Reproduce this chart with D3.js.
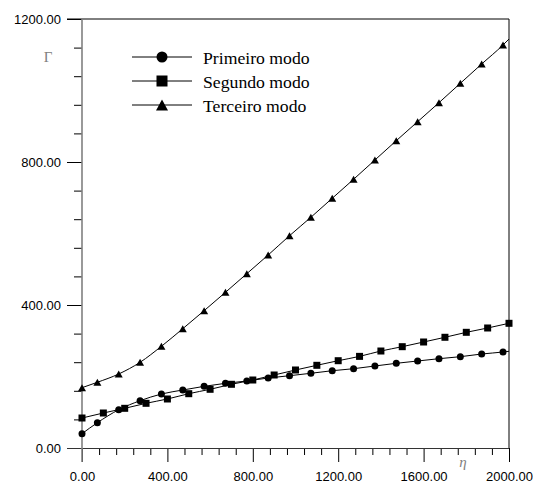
<!DOCTYPE html>
<html>
<head>
<meta charset="utf-8">
<script src="https://cdn.jsdelivr.net/npm/d3@7/dist/d3.min.js"></script>
<style>
  html, body { margin: 0; padding: 0; background: #fff; }
  svg { display: block; }
  .tick text { font-family: "Liberation Sans", Arial, sans-serif; font-size: 13px; fill: #000; }
</style>
</head>
<body>
<svg id="chart" width="533" height="484"></svg>
<script>
// η positions where markers sit
const etaShifted = [0, 72, 172, 272, 372, 472, 572, 672, 772, 872, 972, 1072, 1172, 1272, 1372, 1472, 1572, 1672, 1772, 1872, 1972];
const etaEven = [0, 100, 200, 300, 400, 500, 600, 700, 800, 900, 1000, 1100, 1200, 1300, 1400, 1500, 1600, 1700, 1800, 1900, 2000];

// Γ values of each mode
const primeiroModo = [40.0, 70.8, 107.1, 132.3, 151.0, 162.2, 172.5, 180.9, 187.4, 195.8, 202.2, 209.0, 216.2, 221.8, 229.4, 236.9, 243.4, 249.8, 255.4, 262.9, 268.5];
const segundoModo = [83.9, 97.9, 111.0, 125.0, 137.1, 151.9, 164.2, 178.2, 190.2, 204.2, 218.2, 231.3, 244.2, 256.3, 271.3, 283.4, 296.5, 309.7, 323.6, 335.7, 348.8];
const terceiroModo = [168.7, 183.8, 207.0, 239.7, 284.5, 333.7, 384.1, 435.5, 487.6, 539.9, 593.8, 645.3, 698.5, 751.6, 805.6, 859.6, 912.7, 965.9, 1020.1, 1074.1, 1127.3];
// curve values at the right edge (η = 2000), no marker there
const primeiroEnd = 270.5;
const terceiroEnd = 1144.0;

const seriesNames = ["Primeiro modo", "Segundo modo", "Terceiro modo"];
const xMajorTicks = [0, 400, 800, 1200, 1600, 2000];
const yMajorTicks = [0, 400, 800, 1200];

const svg = d3.select("#chart");
const x = d3.scaleLinear().domain([0, 2000]).range([82, 509]);
const y = d3.scaleLinear().domain([0, 1200]).range([448, 19]);
const fmt = d3.format(".2f");

// minor ticks (every 80)
const xMinor = d3.range(0, 2001, 80).filter(v => !xMajorTicks.includes(v));
const yMinor = d3.range(0, 1201, 80).filter(v => !yMajorTicks.includes(v));

const gx = svg.append("g").attr("transform", `translate(0,${y(0)})`);
gx.call(d3.axisBottom(x).tickValues(xMinor).tickSize(7).tickFormat(""));
gx.call(g => g.select(".domain").remove());
const gx2 = svg.append("g").attr("transform", `translate(0,${y(0)})`);
gx2.call(d3.axisBottom(x).tickValues(xMajorTicks).tickSize(14).tickPadding(10).tickFormat(fmt));
gx2.call(g => g.select(".domain").remove());

const gy = svg.append("g").attr("transform", `translate(${x(0)},0)`);
gy.call(d3.axisLeft(y).tickValues(yMinor).tickSize(8).tickFormat(""));
gy.call(g => g.select(".domain").remove());
const gy2 = svg.append("g").attr("transform", `translate(${x(0)},0)`);
gy2.call(d3.axisLeft(y).tickValues(yMajorTicks).tickSize(15).tickPadding(6).tickFormat(fmt));
gy2.call(g => g.select(".domain").remove());
svg.selectAll(".tick line").attr("stroke", "#000").attr("stroke-width", 1);

// frame: bottom axis line, top and right borders, grey left axis
svg.append("line").attr("x1", x(0) - 15).attr("x2", x(2000)).attr("y1", y(0) + 0.5).attr("y2", y(0) + 0.5)
  .attr("stroke", "#333").attr("stroke-width", 1.2);
svg.append("line").attr("x1", x(0) - 15).attr("x2", x(2000)).attr("y1", y(1200)).attr("y2", y(1200))
  .attr("stroke", "#000").attr("stroke-width", 1);
svg.append("line").attr("x1", x(2000)).attr("x2", x(2000)).attr("y1", y(1200)).attr("y2", y(0))
  .attr("stroke", "#000").attr("stroke-width", 1);
svg.append("line").attr("x1", x(0)).attr("x2", x(0)).attr("y1", y(1200)).attr("y2", y(0) + 14)
  .attr("stroke", "#808080").attr("stroke-width", 1.6);

// axis symbols
svg.append("text").attr("x", 48).attr("y", 62).attr("text-anchor", "middle")
  .attr("font-family", "'Liberation Serif', 'Times New Roman', serif").attr("font-size", 15)
  .attr("fill", "#808080").text("Γ");
svg.append("text").attr("x", 463).attr("y", 467).attr("text-anchor", "middle")
  .attr("font-family", "'Liberation Serif', 'Times New Roman', serif").attr("font-size", 15)
  .attr("font-style", "italic").attr("fill", "#808080").text("η");

// marker shapes
function trianglePath(w, h) {
  return `M0,${-h / 2}L${w / 2},${h / 2}L${-w / 2},${h / 2}Z`;
}
function drawMarker(g, kind, cx, cy, s) {
  if (kind === "circle") {
    g.append("circle").attr("cx", cx).attr("cy", cy).attr("r", s / 2).attr("fill", "#000");
  } else if (kind === "square") {
    g.append("rect").attr("x", cx - s / 2).attr("y", cy - s / 2).attr("width", s).attr("height", s).attr("fill", "#000");
  } else {
    g.append("path").attr("d", trianglePath(s + 1, s)).attr("transform", `translate(${cx},${cy})`).attr("fill", "#000");
  }
}

const series = [
  { name: seriesNames[0], kind: "circle", eta: etaShifted, gamma: primeiroModo, end: primeiroEnd },
  { name: seriesNames[1], kind: "square", eta: etaEven, gamma: segundoModo, end: null },
  { name: seriesNames[2], kind: "triangle", eta: etaShifted, gamma: terceiroModo, end: terceiroEnd }
];

const line = d3.line().x(d => x(d[0])).y(d => y(d[1])).curve(d3.curveMonotoneX);

series.forEach(s => {
  const pts = s.eta.map((e, i) => [e, s.gamma[i]]);
  const linePts = s.end === null ? pts : pts.concat([[2000, s.end]]);
  svg.append("path").attr("d", line(linePts)).attr("fill", "none")
    .attr("stroke", "#000").attr("stroke-width", 1);
  const g = svg.append("g");
  pts.forEach(p => drawMarker(g, s.kind, x(p[0]), y(p[1]), 7));
});

// legend
const legendRows = [57, 81, 105];
series.forEach((s, i) => {
  const ly = legendRows[i];
  svg.append("line").attr("x1", 132).attr("x2", 192).attr("y1", ly).attr("y2", ly)
    .attr("stroke", "#000").attr("stroke-width", 1);
  const g = svg.append("g");
  drawMarker(g, s.kind, 162, ly, 11);
  svg.append("text").attr("x", 203).attr("y", ly + 7)
    .attr("font-family", "'Liberation Serif', 'Times New Roman', serif").attr("font-size", 17.7)
    .attr("fill", "#000").text(s.name);
});
</script>
</body>
</html>
